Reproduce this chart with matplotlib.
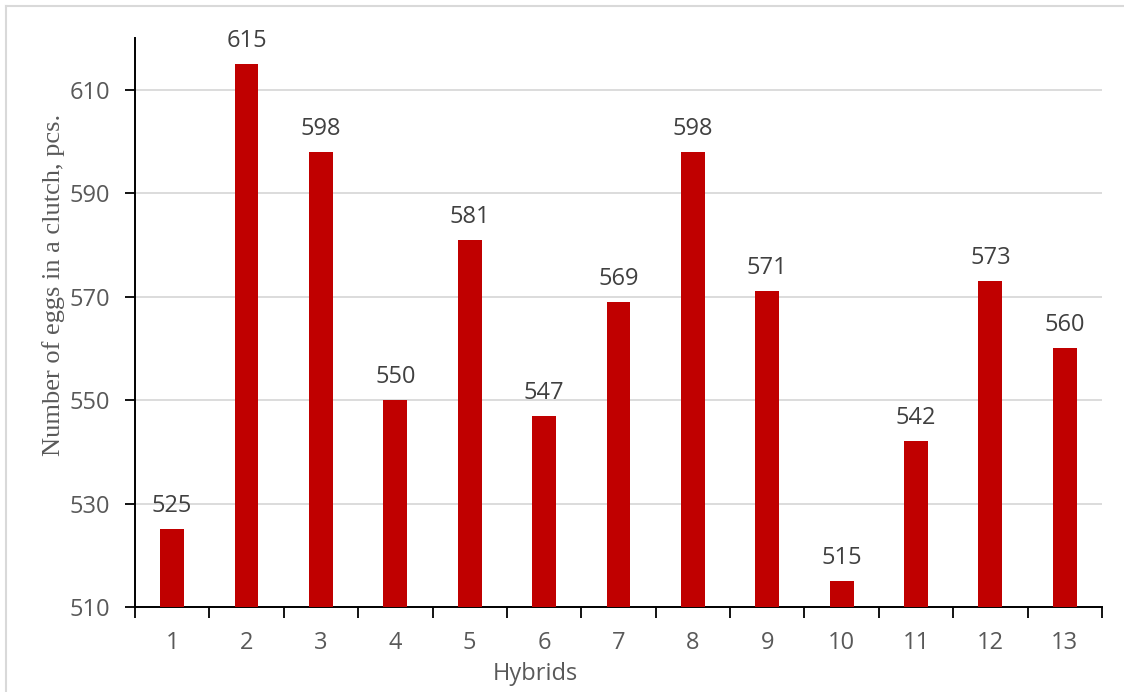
import matplotlib.pyplot as plt
from matplotlib.lines import Line2D
import numpy as np

# Egg counts per clutch for each hybrid
hybrids = [str(i) for i in range(1, 14)]
eggs = [525, 615, 598, 550, 581, 547, 569, 598, 571, 515, 542, 573, 560]

y_ticks = [510, 530, 550, 570, 590, 610]

BAR_COLOR = '#C00000'
TEXT_GRAY = '#595959'
GRID_GRAY = '#D9D9D9'

plt.rcParams['font.family'] = ['Open Sans', 'DejaVu Sans']

fig = plt.figure(figsize=(11.24, 6.92), dpi=100)
ax = fig.add_axes([0.1201, 0.1228, 0.8603, 0.8223])

x = np.arange(len(hybrids))
bars = ax.bar(x, [v - 510 for v in eggs], bottom=510, width=0.32,
              color=BAR_COLOR, zorder=3)
ax.bar_label(bars, labels=[str(v) for v in eggs], padding=8,
             fontsize=17, color='#404040')

ax.set_ylim(510, 620)
ax.set_xlim(-0.5, len(hybrids) - 0.5)
ax.set_yticks(y_ticks)
ax.yaxis.grid(True, color=GRID_GRAY, linewidth=1.3, zorder=0)

# ticks sit on category boundaries, labels in the middle
ax.set_xticks(np.arange(-0.5, len(hybrids)), minor=False)
ax.set_xticklabels([])
ax.set_xticks(x, minor=True)
ax.set_xticklabels(hybrids, minor=True)
ax.tick_params(axis='x', which='major', length=8, width=1.3, color='black')
ax.tick_params(axis='x', which='minor', length=0, pad=17,
               labelsize=17, labelcolor=TEXT_GRAY)
ax.tick_params(axis='y', length=7, width=1.3, color='black', pad=11,
               labelsize=17, labelcolor=TEXT_GRAY)

for side in ['top', 'right']:
    ax.spines[side].set_visible(False)
for side in ['left', 'bottom']:
    ax.spines[side].set_linewidth(1.4)
    ax.spines[side].set_color('black')

ax.set_ylabel('Number of eggs in a clutch, pcs.', family='Liberation Serif',
              fontsize=19, color=TEXT_GRAY)
ax.yaxis.set_label_coords(-0.072, 0.566)
ax.set_xlabel('Hybrids', fontsize=17, color=TEXT_GRAY)
ax.xaxis.set_label_coords((535 - 135) / (1102 - 135), -0.097)

# chart area frame (only the left and top edges fall inside the image)
fig.add_artist(Line2D([6 / 1124, 6 / 1124], [0, 1 - 6 / 692],
                      transform=fig.transFigure, color=GRID_GRAY, linewidth=1.5))
fig.add_artist(Line2D([6 / 1124, 1], [1 - 6 / 692, 1 - 6 / 692],
                      transform=fig.transFigure, color=GRID_GRAY, linewidth=1.5))

fig.savefig('out.png', dpi=100)
